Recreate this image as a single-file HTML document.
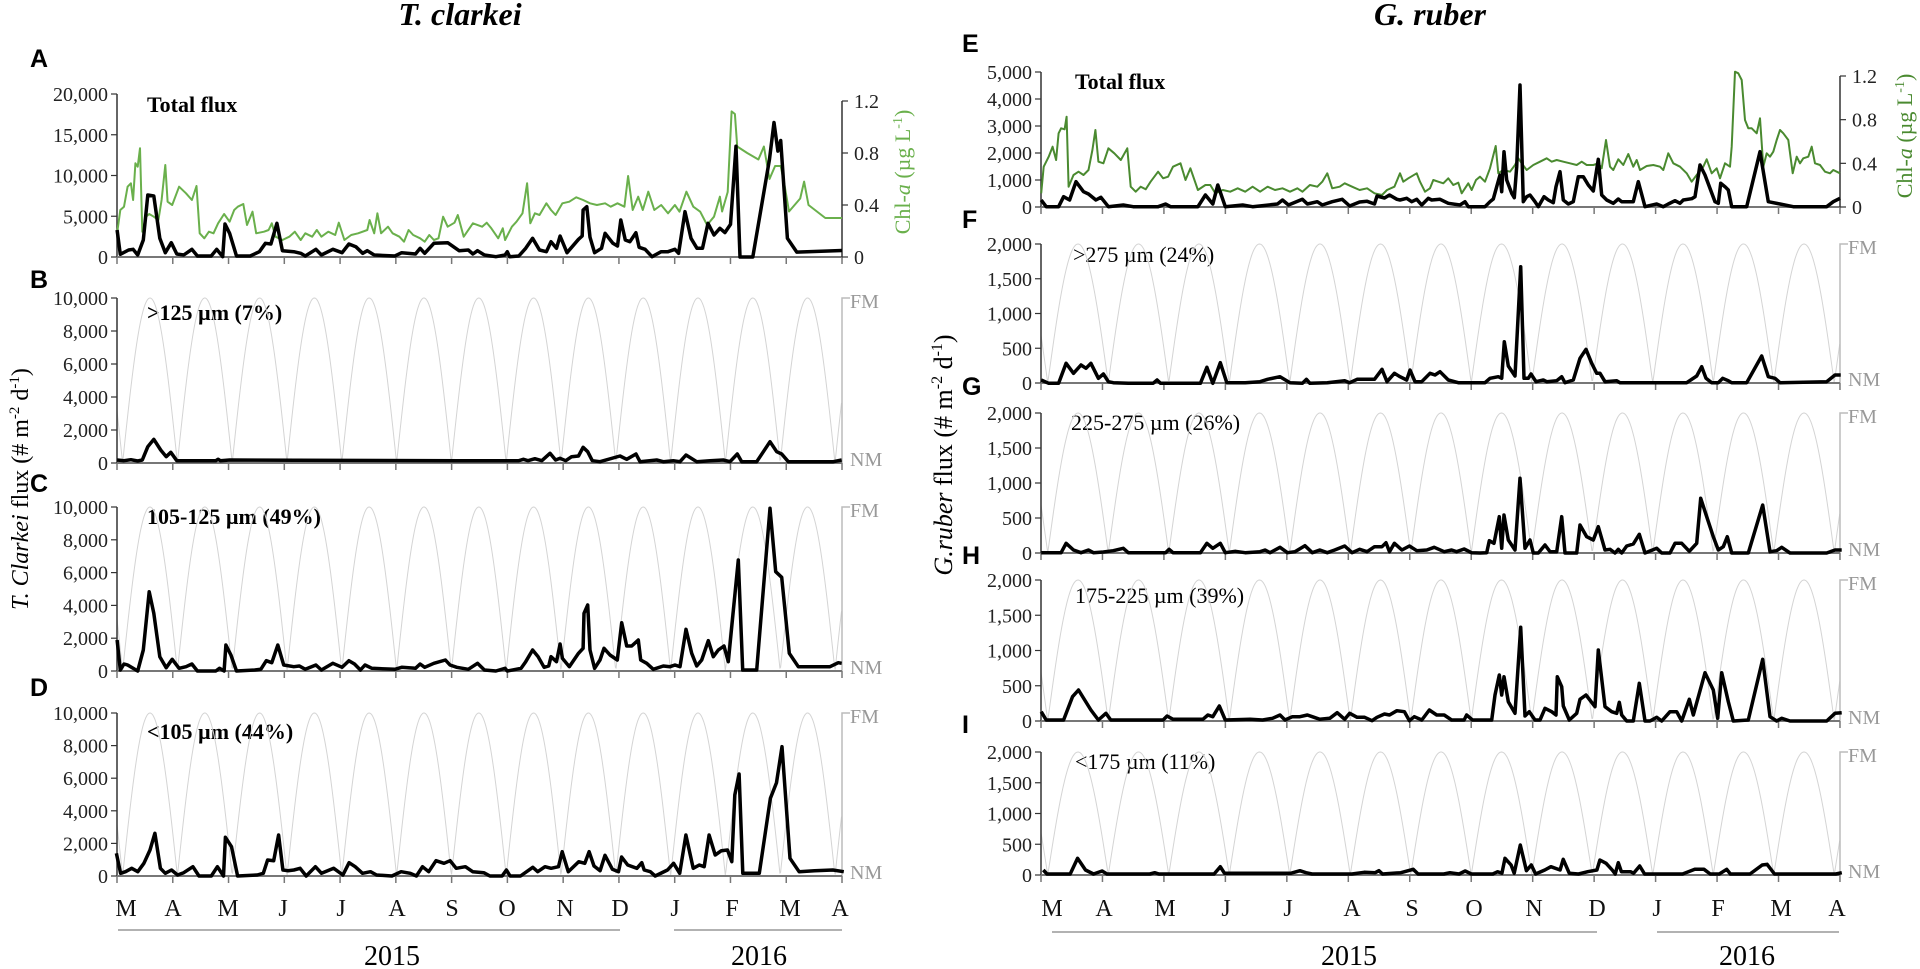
<!DOCTYPE html>
<html><head><meta charset="utf-8"><style>
html,body{margin:0;padding:0;background:#fff;}
svg{display:block;}
text{font-family:"Liberation Serif",serif;}
.tk{font-size:20px;fill:#222;}
.pl{font-family:"Liberation Sans",sans-serif;font-weight:bold;font-size:25px;fill:#000;}
.mo{font-size:24px;fill:#111;}
.fm{font-size:20px;fill:#999;}
</style></head><body>
<svg id="s" width="1920" height="969" viewBox="0 0 1920 969" xmlns="http://www.w3.org/2000/svg">
<text x="460" y="25" text-anchor="middle" style="font-size:32px;font-weight:bold;font-style:italic">T. clarkei</text>
<text x="1430" y="25" text-anchor="middle" style="font-size:32px;font-weight:bold;font-style:italic">G. ruber</text>
<text class="pl" x="30" y="67">A</text>
<text class="pl" x="30" y="288">B</text>
<text class="pl" x="30" y="492">C</text>
<text class="pl" x="30" y="696">D</text>
<text class="pl" x="962" y="52">E</text>
<text class="pl" x="962" y="228">F</text>
<text class="pl" x="962" y="395">G</text>
<text class="pl" x="962" y="564">H</text>
<text class="pl" x="962" y="733">I</text>
<text x="147" y="112" style="font-size:22px;font-weight:bold">Total flux</text>
<text x="147" y="320" style="font-size:22px;font-weight:bold">&gt;125 µm (7%)</text>
<text x="147" y="524" style="font-size:22px;font-weight:bold">105-125 µm (49%)</text>
<text x="147" y="739" style="font-size:22px;font-weight:bold">&lt;105 µm (44%)</text>
<text x="1075" y="89" style="font-size:22px;font-weight:bold">Total flux</text>
<text x="1073" y="262" style="font-size:22px">&gt;275 µm (24%)</text>
<text x="1071" y="430" style="font-size:22px">225-275 µm (26%)</text>
<text x="1075" y="603" style="font-size:22px">175-225 µm (39%)</text>
<text x="1075" y="769" style="font-size:22px">&lt;175 µm (11%)</text>
<text transform="translate(28,489) rotate(-90)" text-anchor="middle" style="font-size:24px"><tspan font-style="italic">T. Clarkei</tspan>  flux (# m<tspan dy="-9" font-size="15">-2</tspan><tspan dy="9"> d</tspan><tspan dy="-9" font-size="15">-1</tspan><tspan dy="9">)</tspan></text>
<text transform="translate(952,455) rotate(-90)" text-anchor="middle" style="font-size:26px"><tspan font-style="italic">G.ruber</tspan>  flux (# m<tspan dy="-10" font-size="16">-2</tspan><tspan dy="10"> d</tspan><tspan dy="-10" font-size="16">-1</tspan><tspan dy="10">)</tspan></text>
<text transform="translate(910,172) rotate(-90)" text-anchor="middle" style="font-size:22px;fill:#6ab04c">Chl-<tspan font-style="italic">a</tspan> (µg L<tspan dy="-8" font-size="14">-1</tspan><tspan dy="8">)</tspan></text>
<text transform="translate(1912,136) rotate(-90)" text-anchor="middle" style="font-size:22px;fill:#4a8a30">Chl-<tspan font-style="italic">a</tspan> (µg L<tspan dy="-8" font-size="14">-1</tspan><tspan dy="8">)</tspan></text>
<text x="392" y="965" text-anchor="middle" style="font-size:28px">2015</text>
<text x="759" y="965" text-anchor="middle" style="font-size:28px">2016</text>
<text x="1349" y="965" text-anchor="middle" style="font-size:28px">2015</text>
<text x="1747" y="965" text-anchor="middle" style="font-size:28px">2016</text>
<line x1="118" y1="930" x2="620" y2="930" stroke="#999" stroke-width="1.5"/>
<line x1="674" y1="930" x2="842" y2="930" stroke="#999" stroke-width="1.5"/>
<line x1="1052" y1="932" x2="1597" y2="932" stroke="#999" stroke-width="1.5"/>
<line x1="1657" y1="932" x2="1839" y2="932" stroke="#999" stroke-width="1.5"/>
</svg>
<script>
var S=document.getElementById('s'),NS='http://www.w3.org/2000/svg';
function el(n,a,t){var e=document.createElementNS(NS,n);for(var k in a)e.setAttribute(k,a[k]);if(t!==undefined)e.textContent=t;S.appendChild(e);return e;}
function fmt(v){return v.toString().replace(/\B(?=(\d{3})+(?!\d))/g,',');}
function Z(x0,y0,sx,sy,arr){return arr.map(function(p){return [x0+p[0]/sx,y0+p[1]/sy];});}
function cut(pts,lo,hi){return pts.filter(function(p){return p[0]>=lo&&p[0]<=hi;});}
function line(pts,col,w){el('polyline',{points:pts.map(function(p){return p[0].toFixed(1)+','+p[1].toFixed(1);}).join(' '),fill:'none',stroke:col,'stroke-width':w,'stroke-linejoin':'round'});}
// panels
var L={x0:117,x1:842,step:55.77},R={x0:1041,x1:1840,step:61.46};
var panels=[
 {s:L,top:94,bot:257,max:20000,st:5000,lunar:false},
 {s:L,top:298,bot:463,max:10000,st:2000,lunar:true},
 {s:L,top:507,bot:671,max:10000,st:2000,lunar:true},
 {s:L,top:713,bot:876,max:10000,st:2000,lunar:true},
 {s:R,top:72,bot:207,max:5000,st:1000,lunar:false},
 {s:R,top:244,bot:383,max:2000,st:500,lunar:true},
 {s:R,top:413,bot:553,max:2000,st:500,lunar:true},
 {s:R,top:580,bot:721,max:2000,st:500,lunar:true},
 {s:R,top:752,bot:875,max:2000,st:500,lunar:true}];
panels.forEach(function(p){
 var s=p.s;
 if(p.lunar){
  var p0=(s===L)?150:1441,P=(s===L)?54.8:60.5,pts=[];
  for(var x=s.x0;x<=s.x1;x+=0.7){var c=Math.abs(Math.cos(Math.PI*(x-p0)/P));pts.push([x,p.bot-(p.bot-p.top)*c]);}
  line(pts,'#d4d4d4',1);
  el('polyline',{points:(s.x1+8)+','+p.top+' '+s.x1+','+p.top+' '+s.x1+','+p.bot,fill:'none',stroke:'#bbb','stroke-width':1.5});
  el('text',{'class':'fm',x:s.x1+8,y:p.top+10},'FM');
  el('text',{'class':'fm',x:s.x1+8,y:p.bot+3},'NM');
 }
 el('line',{x1:s.x0,y1:p.top,x2:s.x0,y2:p.bot,stroke:'#333','stroke-width':1.5});
 for(var v=0;v<=p.max;v+=p.st){var y=p.bot-(p.bot-p.top)*v/p.max;
  el('line',{x1:s.x0-6,y1:y,x2:s.x0,y2:y,stroke:'#333','stroke-width':1.2});
  el('text',{'class':'tk',x:s.x0-9,y:y+7,'text-anchor':'end'},fmt(v));}
 el('line',{x1:s.x0,y1:p.bot,x2:s.x1,y2:p.bot,stroke:'#777','stroke-width':2});
 for(var k=0;k<=13;k++){var x=s.x0+s.step*k;el('line',{x1:x,y1:p.bot,x2:x,y2:p.bot+7,stroke:'#777','stroke-width':1.5});}
});
// chl axes
[[842,257,101,'#333'],[1840,207,76,'#333']].forEach(function(a){
 el('line',{x1:a[0],y1:a[2],x2:a[0],y2:a[1],stroke:'#333','stroke-width':1.5});
 ['0','0.4','0.8','1.2'].forEach(function(t,i){var y=a[1]-(a[1]-a[2])*i/3;
  el('line',{x1:a[0],y1:y,x2:a[0]+6,y2:y,stroke:'#333','stroke-width':1.2});
  el('text',{'class':'tk',x:a[0]+12,y:y+7},t);});
});
// month labels
var ml=['M','A','M','J','J','A','S','O','N','D','J','F','M','A'];
var lx=[126,173,228,283,341,397,452,507,565,620,675,732,790,840],rx=[1052,1104,1165,1226,1288,1352,1412,1474,1534,1597,1657,1718,1781,1837];
ml.forEach(function(m,i){el('text',{'class':'mo',x:lx[i],y:916,'text-anchor':'middle'},m);el('text',{'class':'mo',x:rx[i],y:916,'text-anchor':'middle'},m);});

function M(arr,bot,h,max){return arr.map(function(p){return [117+p[0]*55.77,bot-h*p[1]/max];});}
// ---- A green
var gA=Z(0,60,2.178,3,[[255,520],[262,450],[270,440],[278,380],[285,370],[290,420],[295,310],[300,320],[305,265],[310,515],[318,470],[325,462],[335,470],[345,480],[352,420],[360,315],[365,425],[375,435],[390,380],[405,400],[418,420],[428,378],[435,520],[445,535],[455,515],[465,520],[475,490],[488,462],[500,485],[510,450],[518,440],[530,432],[538,495],[550,455],[558,520],[575,515],[585,510],[592,490],[600,530],[615,540],[630,530],[642,515],[655,540],[665,520],[680,530],[690,510],[700,530],[715,515],[730,525],[738,488],[750,540],[765,525],[780,520],[800,510],[805,480],[815,520],[822,460],[830,520],[845,500],[855,520],[870,530],[880,545],[890,510],[900,525],[915,535],[925,545],[935,525],[945,540],[955,535],[965,470],[975,500],[990,488],[997,465],[1010,530],[1030,490],[1050,500],[1060,488],[1070,505],[1085,535],[1095,505],[1100,540],[1115,500],[1125,485],[1138,460],[1148,370],[1155,490],[1165,460],[1175,465],[1190,430],[1200,450],[1210,465],[1225,430],[1240,425],[1255,412],[1270,420],[1285,430],[1300,435],[1318,430],[1330,440],[1345,430],[1360,440],[1368,348],[1378,450],[1390,410],[1400,450],[1412,395],[1425,450],[1440,435],[1455,460],[1470,435],[1480,455],[1495,395],[1510,440],[1525,455],[1540,495],[1555,470],[1568,410]]);
gA=gA.concat([[10.85,0.35],[10.95,0.5],[11.02,1.12],[11.08,1.1],[11.12,0.85],[11.3,0.8],[11.5,0.75],[11.6,0.85],[11.7,0.6],[11.8,0.7],[11.9,0.7],[11.97,0.55],[12.05,0.35],[12.15,0.4],[12.25,0.45],[12.32,0.58],[12.4,0.4],[12.55,0.35],[12.7,0.3],[12.85,0.3],[13,0.3]].map(function(p){return [117+p[0]*55.77,257-p[1]*130];}));
line(gA,'#6ab04c',2);
// ---- A black
var bA=Z(0,60,2.178,3,[[255,510],[262,583],[280,570],[290,568],[300,585],[312,540],[322,405],[335,408],[348,535],[360,578],[373,548],[385,582],[400,585],[418,568],[430,588],[460,588],[472,568],[485,590],[490,492],[500,520],[515,588],[545,588],[565,575],[578,550],[590,552],[603,490],[615,572],[640,575],[655,580],[665,588],[688,568],[700,585],[725,568],[745,578],[760,552],[775,560],[790,580],[800,572],[815,585],[860,588],[875,578],[905,582],[915,565],[925,580],[945,550],[975,548],[1000,572],[1020,570],[1030,582],[1040,572],[1055,585],[1080,590],[1100,585],[1105,575],[1110,590],[1130,588],[1145,565],[1160,535],[1175,570],[1190,575],[1200,545],[1212,565],[1220,528],[1235,578],[1260,538],[1268,528],[1270,450],[1278,440],[1285,532],[1295,578],[1310,565],[1318,520],[1335,550],[1345,558],[1352,480],[1362,540],[1372,545],[1385,518],[1392,562],[1405,568],[1420,590],[1440,575],[1455,575],[1470,568],[1478,580],[1492,455],[1505,535],[1518,565],[1530,565],[1542,490],[1555,525],[1568,505]]);
bA=bA.concat(M([[10.9,3000],[11.0,4000],[11.1,13600],[11.17,0],[11.4,0],[11.7,12000],[11.78,16500],[11.85,13000],[11.9,14300],[12.02,2300],[12.19,600],[13,800]],257,163,20000));
line(bA,'#000',3.5);
// ---- B
var b1=cut(Z(0,390,2.178,3,[[255,210],[270,212],[285,209],[300,213],[310,210],[322,170],[335,148],[350,180],[362,200],[372,187],[385,212],[470,212],[475,208],[480,212],[500,210],[1000,212],[1130,212],[1140,208],[1150,212],[1165,206],[1180,212],[1198,190],[1210,210],[1220,205],[1232,212],[1245,200],[1260,198],[1270,172],[1280,185],[1290,212]]),0,599);
var b2=Z(600,280,3,3,[[0,545],[60,528],[80,538],[108,522],[120,545],[170,540],[190,545],[220,542],[240,545],[258,525],[290,545],[330,542],[370,540],[390,545],[412,522],[425,545],[470,545],[510,485],[530,515],[545,522],[565,545],[700,545],[725,540]]);
line(b1.concat(b2),'#000',3.5);
// ---- C
var c1=cut(Z(0,390,2.178,3,[[255,750],[262,840],[270,822],[278,825],[290,835],[300,843],[312,780],[325,605],[335,670],[348,800],[362,833],[375,808],[390,835],[405,830],[418,822],[430,843],[470,843],[478,835],[488,843],[492,765],[503,795],[515,843],[555,840],[568,838],[580,812],[592,818],[605,765],[618,825],[640,830],[652,828],[665,838],[688,825],[700,840],[725,820],[745,832],[760,812],[772,822],[785,840],[795,825],[810,835],[860,838],[875,832],[905,835],[915,822],[925,832],[945,820],[970,810],[980,825],[995,832],[1020,838],[1040,820],[1055,840],[1080,843],[1100,835],[1105,843],[1135,835],[1145,815],[1160,780],[1172,800],[1185,832],[1195,828],[1200,800],[1212,815],[1220,762],[1225,805],[1240,830],[1260,790],[1270,775],[1272,670],[1280,645],[1285,780],[1295,835]]),0,599);
var c2=Z(600,280,3,3,[[0,1140],[12,1105],[30,1125],[52,1140],[65,1028],[80,1098],[95,1098],[115,1080],[122,1140],[140,1150],[160,1168],[190,1158],[210,1160],[225,1155],[240,1160],[258,1048],[275,1120],[290,1158],[305,1140],[325,1082],[340,1130],[355,1110],[372,1098],[385,1145],[415,840],[428,1170],[470,1170],[510,685],[527,875],[545,892],[568,1120],[595,1160],[690,1160],[715,1148],[725,1150]]);
line(c1.concat(c2),'#000',3.5);
// ---- D
line(Z(0,700,1.633,3,[[190,460],[197,520],[205,515],[215,505],[225,515],[235,490],[245,450],[253,400],[262,505],[270,520],[280,510],[290,525],[300,518],[315,500],[325,528],[345,528],[355,500],[365,528],[368,412],[378,440],[388,528],[420,525],[430,520],[437,480],[447,482],[455,405],[462,510],[470,512],[480,510],[490,505],[500,528],[515,500],[525,520],[545,505],[560,525],[570,488],[580,500],[592,520],[605,515],[615,525],[640,528],[655,515],[670,520],[680,528],[690,500],[700,515],[712,482],[725,490],[735,482],[745,505],[760,500],[772,515],[790,518],[800,528],[820,528],[827,510],[833,528],[850,528],[870,502],[878,515],[890,500],[900,505],[912,500],[918,455],[928,515],[945,485],[955,490],[962,455],[970,498],[980,512],[988,466],[1000,508],[1010,515],[1015,471],[1025,495],[1040,505],[1048,488],[1052,510],[1062,515],[1070,528],[1090,510],[1100,490],[1110,520],[1120,405],[1132,505],[1142,495],[1150,500],[1158,405],[1168,465],[1178,452],[1188,450],[1195,485],[1200,285],[1207,222],[1213,520],[1240,520],[1258,295],[1268,248],[1277,140],[1290,475],[1305,515],[1330,512],[1360,510],[1378,515]]),'#000',3.5);
// ---- E green
var gE=cut(Z(780,0,2.01,3,[[525,580],[530,500],[540,470],[548,440],[555,480],[560,400],[565,385],[572,388],[576,350],[580,560],[590,525],[600,515],[610,525],[620,510],[628,450],[634,390],[640,485],[650,490],[660,445],[672,460],[685,480],[698,445],[705,560],[715,575],[725,560],[735,568],[745,545],[760,515],[770,535],[780,530],[790,500],[805,490],[815,540],[825,505],[840,570],[855,555],[865,555],[875,580],[890,570],[905,575],[920,565],[935,575],[950,560],[965,575],[980,560],[995,570],[1010,565],[1025,575],[1040,565],[1050,575],[1065,555],[1080,560],[1090,545],[1100,520],[1110,565],[1125,560],[1135,550],[1150,560],[1165,570],[1180,565],[1195,580],[1210,585],[1220,570],[1235,560],[1245,525]]),0,1399);
gE=gE.concat(Z(1400,0,3,3,[[0,520],[10,545],[25,535],[50,520],[60,545],[75,575],[90,565],[100,540],[115,545],[130,550],[145,535],[160,555],[175,548],[185,580],[195,565],[205,550],[215,570],[228,540],[240,530],[255,545],[270,505],[287,438],[295,520],[310,510],[330,515],[345,495],[355,475],[365,490],[380,510],[400,495],[420,485],[440,475],[455,485],[470,480],[490,485],[510,490],[530,495],[545,485],[560,495],[580,495],[595,490],[605,505],[618,420],[630,500],[640,510],[655,478],[670,495],[685,462],[700,500],[710,480],[720,510],[740,498],[760,495],[780,500],[790,510],[805,460],[820,490],[840,500],[860,520],[875,545],[890,525],[910,500],[920,478],[935,520],[950,505],[960,535],[975,490],[990,500],[995,440],[1005,215],[1015,220],[1025,240],[1035,360],[1045,385],[1055,385],[1070,400],[1080,355],[1090,500],[1100,460],[1110,470],[1120,455],[1130,420],[1140,390],[1150,400],[1165,420],[1178,520],[1190,470],[1200,490],[1210,475],[1225,470],[1235,440],[1245,490],[1260,495],[1275,515],[1290,520],[1300,510],[1320,520]]));
line(gE,'#4a8a30',2);
// ---- E black
var bE=cut(Z(780,0,2.01,3,[[525,600],[535,620],[560,620],[570,590],[582,600],[595,545],[610,575],[620,582],[635,600],[645,592],[660,620],[690,615],[710,620],[760,620],[775,612],[785,620],[840,620],[855,585],[870,612],[880,555],[895,620],[930,615],[950,620],[1000,612],[1010,600],[1022,615],[1050,598],[1060,612],[1080,605],[1090,615],[1110,605],[1130,598],[1145,618],[1165,606],[1180,604],[1195,612],[1200,588],[1215,594],[1225,585],[1240,598]]),0,1399);
bE=bE.concat(Z(1400,0,3,3,[[0,600],[20,595],[35,605],[50,598],[65,615],[85,595],[95,600],[120,598],[145,610],[180,615],[195,605],[205,620],[255,620],[270,605],[280,597],[290,560],[300,525],[305,575],[312,455],[320,540],[335,580],[343,593],[350,500],[360,255],[370,605],[380,590],[390,585],[405,605],[415,620],[432,590],[445,600],[460,608],[468,560],[480,515],[490,600],[505,612],[520,605],[535,530],[550,530],[565,555],[580,573],[595,478],[605,585],[620,600],[640,610],[655,597],[665,605],[700,605],[715,545],[735,620],[770,612],[790,620],[805,612],[825,602],[840,610],[850,600],[875,596],[885,590],[900,495],[915,525],[945,605],[955,610],[962,550],[975,560],[985,570],[995,620],[1040,620],[1080,455],[1105,605],[1140,612],[1180,620],[1280,620],[1300,605],[1320,595]]));
line(bE,'#000',3.5);
// ---- F
var f1=cut(Z(780,330,2.01,3,[[525,150],[540,160],[560,160],[575,100],[590,130],[605,105],[615,115],[625,100],[640,145],[650,132],[660,155],[670,158],[700,160],[750,160],[758,150],[765,160],[845,160],[858,112],[870,160],[885,98],[898,158],[935,158],[965,155],[980,148],[1005,140],[1025,158],[1050,160],[1058,148],[1065,160],[1100,158],[1135,152],[1145,158],[1160,148],[1195,148],[1210,118],[1220,155],[1235,130],[1245,138]]),0,1399);
var f2=Z(1400,0,3,3,[[0,1130],[20,1140],[30,1110],[45,1145],[65,1145],[90,1120],[105,1125],[120,1115],[145,1140],[175,1148],[255,1148],[270,1135],[295,1130],[305,1135],[313,1025],[325,1098],[345,1128],[362,800],[372,1135],[385,1135],[393,1122],[408,1145],[430,1140],[440,1145],[470,1142],[485,1130],[495,1148],[520,1140],[540,1075],[558,1048],[575,1090],[590,1120],[600,1120],[615,1145],[650,1142],[660,1148],[860,1148],[890,1128],[905,1100],[918,1135],[935,1148],[955,1148],[968,1135],[985,1142],[995,1148],[1040,1148],[1085,1068],[1105,1130],[1125,1135],[1140,1148],[1280,1145],[1305,1125],[1322,1125]]);
line(f1.concat(f2),'#000',3.5);
// ---- G
var g1=cut(Z(780,330,2.01,3,[[525,668],[565,668],[575,640],[590,660],[605,668],[620,660],[630,668],[650,666],[670,662],[690,655],[700,668],[775,668],[782,658],[790,668],[845,668],[858,640],[870,655],[885,640],[895,668],[915,664],[935,668],[965,665],[975,660],[985,668],[1005,652],[1020,668],[1035,665],[1055,647],[1070,668],[1085,660],[1100,668],[1115,660],[1135,648],[1150,668],[1165,658],[1180,665],[1195,650],[1210,650],[1218,638],[1225,665],[1235,640],[1250,660],[1265,648],[1280,662],[1300,660],[1315,652],[1335,665],[1350,660],[1360,665],[1375,657],[1390,668],[1405,668]]),0,1479);
var g2=Z(1480,390,3,3,[[0,489],[20,488],[28,452],[42,460],[58,380],[65,475],[72,375],[85,450],[105,480],[120,265],[135,475],[150,450],[160,489],[175,489],[195,465],[210,485],[230,485],[245,380],[255,489],[290,489],[300,405],[320,440],[340,450],[355,410],[375,480],[390,478],[405,489],[415,478],[425,489],[440,468],[460,462],[478,433],[495,489],[530,475],[545,489],[570,489],[585,460],[605,460],[628,484],[650,460],[662,325],[680,380],[700,440],[715,480],[730,470],[742,440],[755,489],[805,489],[848,345],[870,485],[890,482],[905,472],[930,489],[1040,489],[1065,480],[1085,480]]);
line(g1.concat(g2),'#000',3.5);
// ---- H
var h1=cut(Z(780,330,2.01,3,[[525,1145],[535,1170],[570,1170],[588,1100],[600,1080],[625,1140],[640,1170],[655,1150],[665,1170],[770,1170],[778,1158],[790,1168],[850,1168],[860,1155],[870,1160],[883,1128],[895,1170],[945,1168],[970,1170],[990,1165],[1005,1155],[1015,1170],[1030,1160],[1045,1160],[1060,1155],[1070,1160],[1085,1168],[1105,1165],[1120,1148],[1135,1168],[1145,1150],[1160,1162],[1175,1162],[1190,1172],[1200,1162],[1215,1152],[1225,1155],[1240,1142],[1255,1145],[1265,1172],[1275,1160],[1290,1170],[1305,1140],[1320,1155],[1335,1155],[1350,1170],[1375,1170],[1380,1155],[1392,1170],[1405,1170]]),0,1479);
var h2=Z(1480,390,3,3,[[0,990],[35,990],[45,915],[58,855],[65,915],[72,860],[85,935],[105,970],[122,712],[135,978],[148,965],[165,990],[180,990],[195,955],[215,965],[228,975],[232,860],[245,890],[250,948],[268,990],[290,970],[300,928],[318,915],[345,950],[355,780],[375,950],[395,965],[410,970],[418,937],[425,975],[440,993],[460,993],[478,880],[495,993],[510,993],[530,982],[545,993],[570,965],[590,965],[605,993],[628,928],[640,975],[675,848],[700,900],[713,985],[725,848],[745,935],[760,993],[805,990],[848,808],[870,980],[890,993],[905,985],[930,993],[1040,993],[1065,970],[1085,968]]);
line(h1.concat(h2),'#000',3.5);
// ---- I
line(Z(960,700,1.633,3,[[136,510],[142,522],[180,522],[192,475],[205,510],[218,522],[232,513],[240,522],[310,522],[318,518],[325,522],[415,522],[425,500],[432,520],[540,520],[555,512],[565,518],[575,522],[640,522],[660,517],[678,518],[684,512],[690,522],[720,518],[740,508],[748,522],[790,522],[800,518],[815,522],[825,513],[835,522],[870,522],[878,515],[885,520],[890,475],[900,495],[905,520],[915,435],[925,512],[933,495],[940,522],[955,510],[965,500],[980,510],[985,478],[995,520],[1010,522],[1025,515],[1040,510],[1045,480],[1055,490],[1065,510],[1070,522],[1075,488],[1080,515],[1095,515],[1100,520],[1110,498],[1118,522],[1180,522],[1200,508],[1215,508],[1225,522],[1240,522],[1252,508],[1258,522],[1290,522],[1310,495],[1318,493],[1330,522],[1430,522],[1440,518]]),'#000',3.5);
</script>
</body></html>
